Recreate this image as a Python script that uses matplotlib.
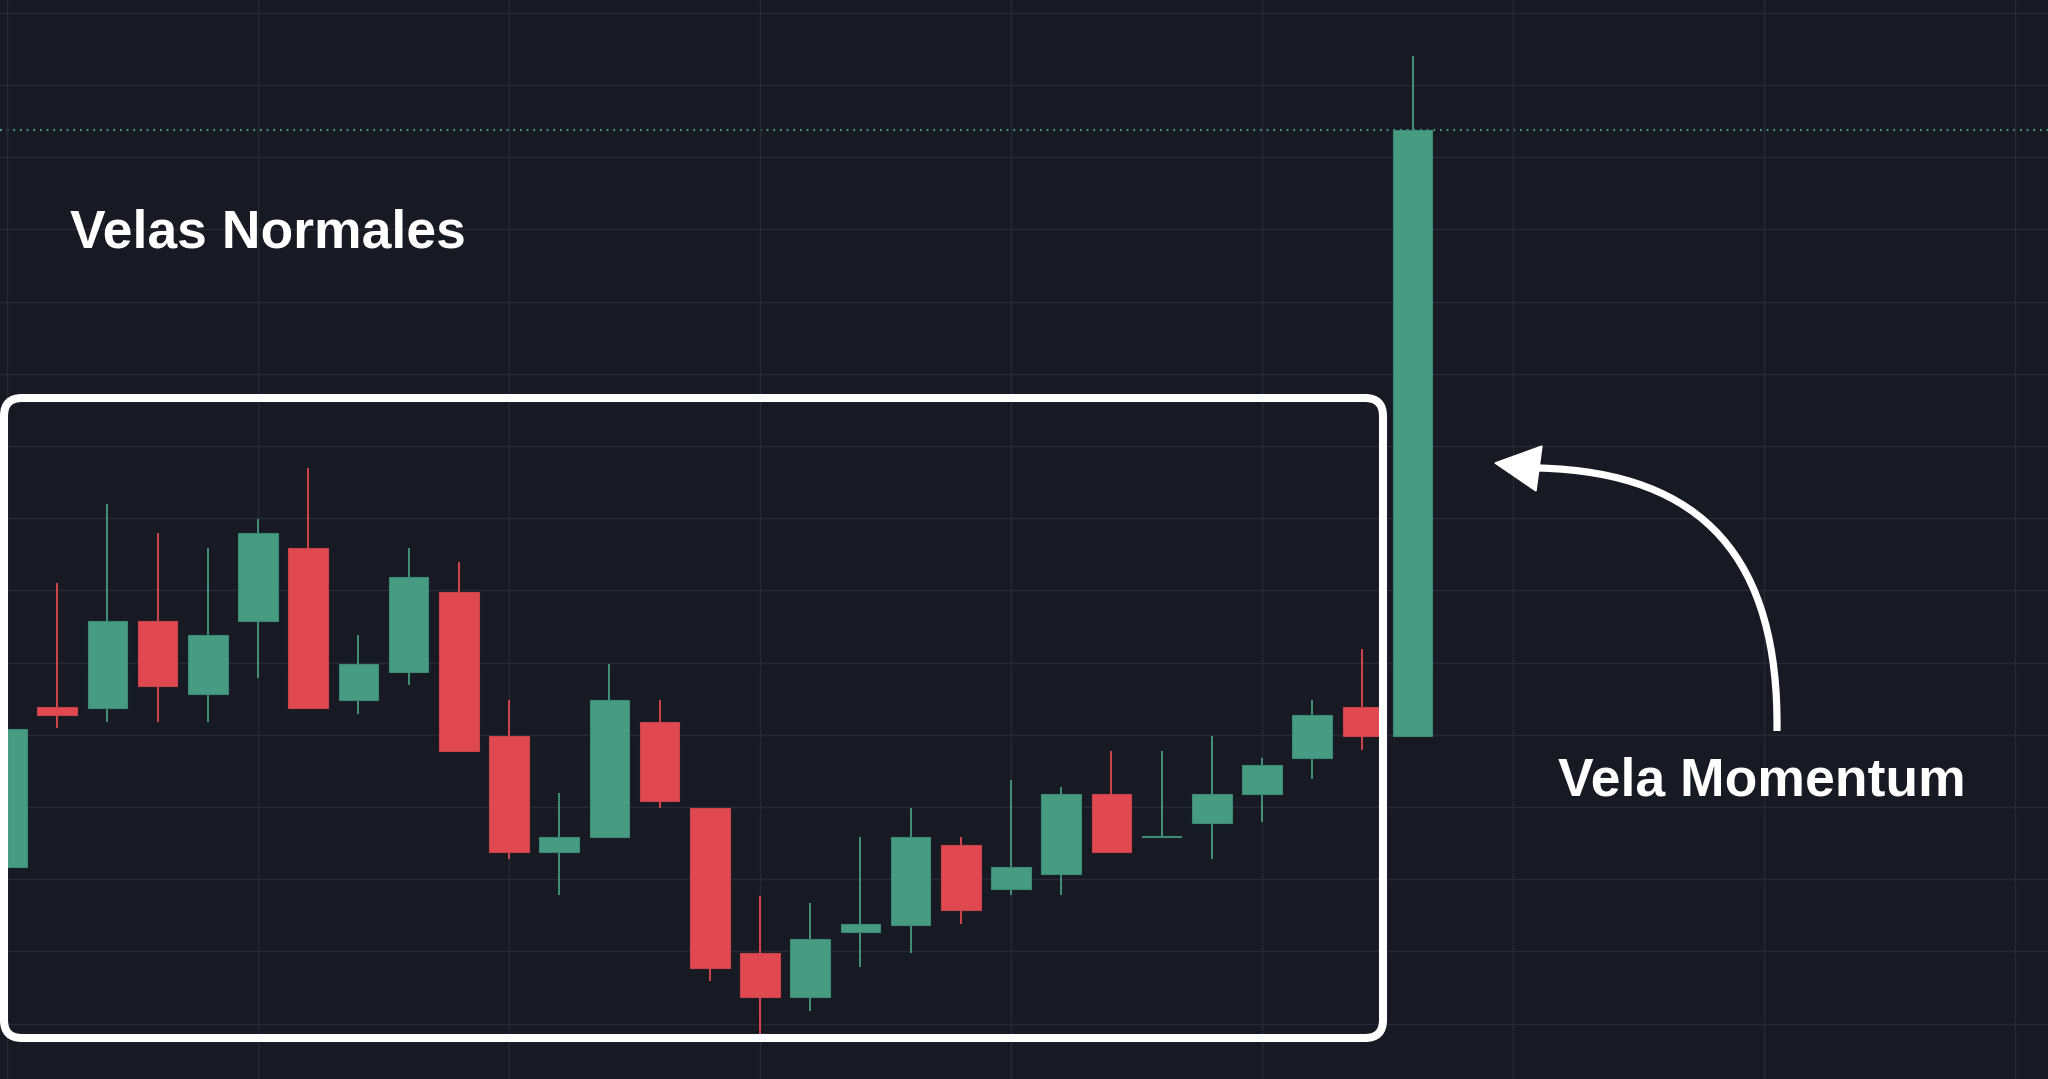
import matplotlib
matplotlib.use('Agg')
import matplotlib.pyplot as plt
from matplotlib.patches import FancyBboxPatch, PathPatch, Polygon
from matplotlib.path import Path

# Datos de las velas (precio en unidades arbitrarias, 10 por linea de grilla)
opens = [121.7, 143.8, 143.7, 155.8, 145.7, 155.7, 165.9, 144.8, 148.7, 159.8,
         139.9, 123.7, 125.8, 141.8, 129.8, 109.8, 103.7, 112.7, 113.7, 124.7,
         118.7, 120.7, 131.8, 125.8, 127.8, 131.8, 136.8, 143.8, 139.9]
closes = [140.8, 142.8, 155.8, 146.7, 153.8, 167.9, 143.7, 149.8, 161.9, 137.8,
          123.7, 125.8, 144.8, 130.8, 107.7, 103.7, 111.7, 113.8, 125.8, 115.7,
          121.7, 131.8, 123.7, 125.9, 131.8, 135.8, 142.8, 139.8, 223.8]
highs = [143.8, 161.0, 172.0, 167.9, 165.9, 169.9, 176.9, 153.8, 165.9, 163.9,
         144.8, 131.9, 149.8, 144.8, 129.8, 117.7, 116.7, 125.8, 129.8, 125.8,
         133.8, 132.8, 137.8, 137.8, 139.9, 136.8, 144.8, 151.9, 234.0]
lows = [106.0, 140.9, 141.8, 141.8, 141.8, 147.9, 143.7, 142.9, 146.9, 137.8,
        122.8, 117.8, 125.8, 129.9, 105.9, 98.4, 101.8, 107.8, 109.8, 113.8,
        117.8, 117.8, 123.7, 125.8, 122.8, 127.9, 133.9, 137.9, 139.9]

label_normales = 'Velas Normales'
label_momentum = 'Vela Momentum'

bg = '#171923'
grid_c = '#272a36'
up_c = '#469b82'
down_c = '#e0494f'

W, H = 2048, 1079
fig = plt.figure(figsize=(W / 100, H / 100), dpi=100, facecolor=bg)

# eje principal con las velas
ax = fig.add_axes([0, 0, 1, 1])
ax.set_facecolor(bg)
ax.set_xlim(-0.139, 40.657)
ax.set_ylim(92.33, 241.77)
ax.set_xticks(range(0, 41, 5))
ax.set_yticks(range(100, 241, 10))
ax.grid(True, color=grid_c, linewidth=1.0)
ax.tick_params(left=False, bottom=False, labelleft=False, labelbottom=False)
for s in ax.spines.values():
    s.set_visible(False)

idx = list(range(len(opens)))
colors = [up_c if c >= o else down_c for o, c in zip(opens, closes)]
edges = ['#3c8a73' if c >= o else '#c9434a' for o, c in zip(opens, closes)]

ax.vlines(idx, lows, highs, colors=colors, linewidth=1.3, zorder=2)
bottoms = [min(o, c) for o, c in zip(opens, closes)]
heights = [max(abs(c - o), 0.15) for o, c in zip(opens, closes)]
ax.bar(idx, heights, bottom=bottoms, width=0.79, color=colors,
       edgecolor=edges, linewidth=0.8, zorder=3)

# linea punteada en el cierre de la ultima vela
ax.axhline(closes[-1], color=up_c, linestyle=(0, (0.8, 2.2)), linewidth=1.6, zorder=1)

# capa de anotaciones en pixeles
ov = fig.add_axes([0, 0, 1, 1])
ov.set_xlim(0, W)
ov.set_ylim(H, 0)
ov.axis('off')
ov.patch.set_alpha(0)

box = FancyBboxPatch((4, 398), 1379, 640,
                     boxstyle='round,pad=0,rounding_size=18',
                     fill=False, edgecolor='white', linewidth=5.8, zorder=5)
ov.add_patch(box)

curve = Path([(1777, 731), (1779, 560), (1705, 472), (1538, 468)],
             [Path.MOVETO, Path.CURVE4, Path.CURVE4, Path.CURVE4])
ov.add_patch(PathPatch(curve, fill=False, edgecolor='white', linewidth=5.2,
                       capstyle='butt', zorder=5))
ov.add_patch(Polygon([(1495, 463), (1542, 446), (1536, 491)], closed=True,
                     facecolor='white', edgecolor='white', linewidth=1, zorder=5))

ov.text(70, 248, label_normales, color='white', fontsize=38.5, fontweight='bold',
        family=['Liberation Sans', 'DejaVu Sans'], ha='left', va='baseline')
ov.text(1558, 795, label_momentum, color='white', fontsize=38.5, fontweight='bold',
        family=['Liberation Sans', 'DejaVu Sans'], ha='left', va='baseline')

fig.savefig('out.png', dpi=100, facecolor=bg)
